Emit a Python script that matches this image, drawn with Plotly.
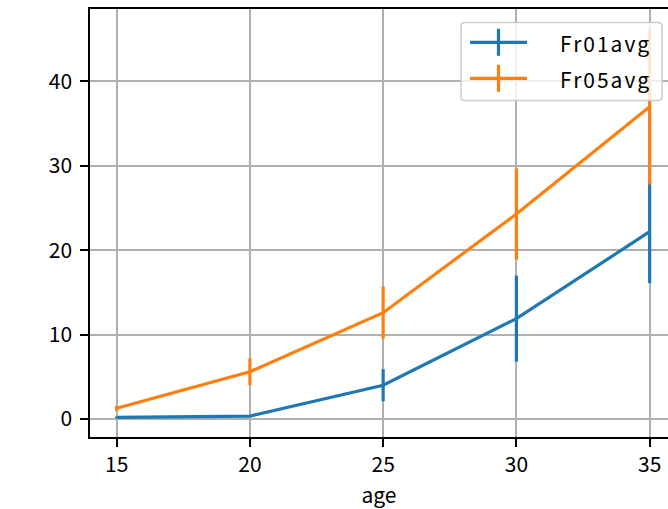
import plotly.graph_objects as go

age = [15, 20, 25, 30, 35]
fr01_avg = [0.2, 0.35, 4.0, 11.9, 22.2]
fr01_err = [0.1, 0.1, 1.9, 5.1, 6.1]
fr05_avg = [1.27, 5.6, 12.6, 24.3, 37.0]
fr05_err = [0.3, 1.6, 3.1, 5.4, 9.2]
series_names = ["Fr01avg", "Fr05avg"]
colors = ["#1f77b4", "#ff7f0e"]
x_ticks = [15, 20, 25, 30, 35]
y_ticks = [0, 10, 20, 30, 40]

FONT = "Noto Sans CJK JP"
FS = 21

W, H = 668, 509
ML, MR, MT = 90, 0, 9
MB = H - 437
PW, PH = W - ML - MR, H - MT - MB


def fx(px):
    return (px - ML) / PW


def fy(py):
    return (H - MB - py) / PH


fig = go.Figure()
for name, vals, errs, col in [
    (series_names[0], fr01_avg, fr01_err, colors[0]),
    (series_names[1], fr05_avg, fr05_err, colors[1]),
]:
    fig.add_trace(go.Scatter(
        x=age, y=vals, mode="lines", name=name,
        line=dict(color=col, width=3.2),
        error_y=dict(type="data", array=errs, visible=True,
                     color=col, thickness=3.2, width=0),
        showlegend=False,
    ))

# manual legend (matplotlib style)
shapes = []
annotations = []
bx0, bx1, by0, by1, r = 461, 662, 22.5, 100.5, 4


def rounded_rect(x0, y0, x1, y1, rad):
    p = [
        f"M {fx(x0 + rad)},{fy(y0)}",
        f"L {fx(x1 - rad)},{fy(y0)}",
        f"Q {fx(x1)},{fy(y0)} {fx(x1)},{fy(y0 + rad)}",
        f"L {fx(x1)},{fy(y1 - rad)}",
        f"Q {fx(x1)},{fy(y1)} {fx(x1 - rad)},{fy(y1)}",
        f"L {fx(x0 + rad)},{fy(y1)}",
        f"Q {fx(x0)},{fy(y1)} {fx(x0)},{fy(y1 - rad)}",
        f"L {fx(x0)},{fy(y0 + rad)}",
        f"Q {fx(x0)},{fy(y0)} {fx(x0 + rad)},{fy(y0)}",
        "Z",
    ]
    return " ".join(p)


shapes.append(dict(
    type="path", xref="paper", yref="paper",
    path=rounded_rect(bx0, by0, bx1, by1, r),
    fillcolor="rgba(255,255,255,0.8)",
    line=dict(color="#cccccc", width=1.5), layer="above",
))
row_y = [42.3, 78.3]
for name, col, ry in zip(series_names, colors, row_y):
    shapes.append(dict(
        type="line", xref="paper", yref="paper",
        x0=fx(470), x1=fx(527), y0=fy(ry), y1=fy(ry),
        line=dict(color=col, width=3.2), layer="above",
    ))
    shapes.append(dict(
        type="line", xref="paper", yref="paper",
        x0=fx(498.5), x1=fx(498.5), y0=fy(ry - 13.5), y1=fy(ry + 13.5),
        line=dict(color=col, width=3.2), layer="above",
    ))
    annotations.append(dict(
        xref="paper", yref="paper", x=fx(558), y=fy(ry + 1),
        xanchor="left", yanchor="middle", showarrow=False,
        text=f'<span style="letter-spacing:2px">{name}</span>',
        font=dict(family=FONT, size=FS, color="black"),
    ))

fig.update_layout(
    width=W, height=H,
    margin=dict(l=ML, r=MR, t=MT, b=MB),
    paper_bgcolor="white", plot_bgcolor="white",
    font=dict(family=FONT, size=FS, color="black"),
    showlegend=False,
    shapes=shapes,
    annotations=annotations,
    xaxis=dict(
        range=[14, 14 + PW / 26.65],
        tickvals=x_ticks, ticktext=[str(v) for v in x_ticks],
        showgrid=True, gridcolor="#b0b0b0", gridwidth=1.5,
        showline=True, linecolor="black", linewidth=1.5, mirror=True,
        ticks="outside", ticklen=8, tickwidth=1.5, tickcolor="black",
        zeroline=False, automargin=False,
        title=dict(text="age", font=dict(size=FS), standoff=12),
    ),
    yaxis=dict(
        range=[-2.13, 48.59],
        tickvals=y_ticks, ticktext=[str(v) for v in y_ticks],
        showgrid=True, gridcolor="#b0b0b0", gridwidth=1.5,
        showline=True, linecolor="black", linewidth=1.5, mirror=False,
        ticks="outside", ticklen=8, tickwidth=1.5, tickcolor="black",
        zeroline=False, ticklabelstandoff=4, automargin=False,
    ),
)

fig.write_html(
    "out.html",
    config={"displayModeBar": False},
    post_script="document.body.style.margin='0';"
                "document.body.style.overflow='hidden';",
)
